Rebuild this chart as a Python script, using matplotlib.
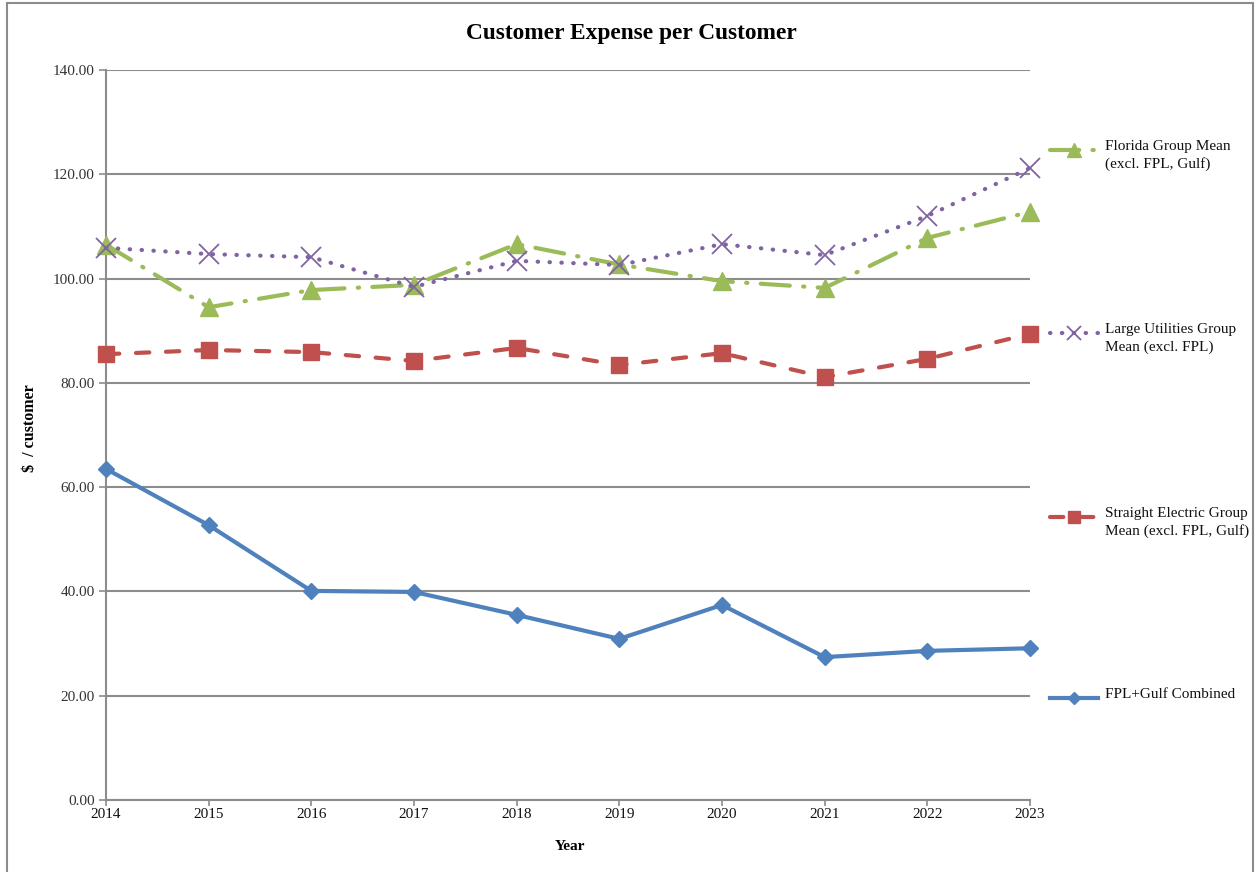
import matplotlib
matplotlib.use("Agg")
import matplotlib.pyplot as plt
from matplotlib.lines import Line2D
from matplotlib.patches import Rectangle

years = [2014, 2015, 2016, 2017, 2018, 2019, 2020, 2021, 2022, 2023]
florida_mean = [106.5, 94.5, 97.8, 98.8, 106.6, 102.7, 99.5, 98.2, 107.8, 112.8]
large_util_mean = [105.9, 104.7, 104.1, 98.4, 103.4, 102.6, 106.6, 104.5, 112.0, 121.2]
straight_elec_mean = [85.5, 86.3, 85.9, 84.2, 86.7, 83.4, 85.7, 81.1, 84.6, 89.4]
fpl_gulf = [63.5, 52.7, 40.1, 39.9, 35.5, 30.9, 37.4, 27.4, 28.6, 29.1]

labels = ["Florida Group Mean\n(excl. FPL, Gulf)",
          "Large Utilities Group\nMean (excl. FPL)",
          "Straight Electric Group\nMean (excl. FPL, Gulf)",
          "FPL+Gulf Combined"]
title = "Customer Expense per Customer"
yticks = [0, 20, 40, 60, 80, 100, 120, 140]

plt.rcParams['font.family'] = ['Liberation Serif', 'DejaVu Serif']

W, H = 1255, 872
fig = plt.figure(figsize=(W / 100, H / 100), dpi=100)
ax = fig.add_axes([106 / W, 1 - 800 / H, (1030 - 106) / W, (800 - 70) / H])

green = '#9BBB59'
purple = '#8064A2'
red = '#C0504D'
blue = '#4F81BD'
grid_c = '#8C8C8C'

styles = [
    dict(color=green, lw=3.0, linestyle=(0, (7, 3.2, 0.3, 3.2)), marker='^', ms=13,
         mfc=green, mec=green, dash_capstyle='round'),
    dict(color=purple, lw=3.0, linestyle=(0, (0.1, 2.75)), marker='x', ms=14,
         mfc=purple, mec=purple, mew=1.3, dash_capstyle='round'),
    dict(color=red, lw=3.0, linestyle=(0, (3.2, 4)), marker='s', ms=12,
         mfc=red, mec=red, dash_capstyle='round'),
    dict(color=blue, lw=3.0, linestyle='-', marker='D', ms=8,
         mfc=blue, mec=blue),
]
series = [florida_mean, large_util_mean, straight_elec_mean, fpl_gulf]
zorders = [4, 5, 3, 3]
for s, st, z in zip(series, styles, zorders):
    ax.plot(years, s, clip_on=False, zorder=z, **st)

ax.set_xlim(2014, 2023)
ax.set_ylim(0, 140)
ax.set_yticks(yticks)
ax.set_yticklabels([f"{v:.2f}" for v in yticks])
ax.set_xticks(years)
ax.set_xticklabels([str(y) for y in years])
ax.yaxis.grid(True, color=grid_c, lw=1.5, zorder=0)
ax.set_axisbelow(True)
for sp in ['top', 'right']:
    ax.spines[sp].set_visible(False)
for sp in ['left', 'bottom']:
    ax.spines[sp].set_color(grid_c)
    ax.spines[sp].set_linewidth(1.5)
ax.tick_params(axis='y', length=5, width=1.2, color=grid_c, labelsize=11, pad=3,
               labelcolor='#333333')
ax.tick_params(axis='x', length=4, width=1.2, color=grid_c, labelsize=11, pad=2,
               labelcolor='#111111')

ax.set_xlabel("Year", fontsize=11, fontweight='bold', labelpad=4)
ax.set_ylabel("$  / customer", fontsize=11.5, fontweight='bold', labelpad=38)
ax.xaxis.set_label_coords((570 - 106) / (1030 - 106), -(840 - 800) / (800 - 70))
ax.yaxis.set_label_coords(-(106 - 38) / (1030 - 106), (800 - 428) / (800 - 70))

fig.text(631 / W, 1 - 33 / H, title, ha='center', va='center',
         fontsize=16.8, fontweight='bold')

# Legend (manual, right side)
leg_y = [150, 333, 517, 698]
for lab, st, y in zip(labels, styles, leg_y):
    yf = 1 - y / H
    st2 = dict(st)
    mk = st2.pop('marker'); ms = st2.pop('ms')
    mfc = st2.pop('mfc'); mec = st2.pop('mec'); mew = st2.pop('mew', 1.0)
    fig.add_artist(Line2D([1050 / W, 1098 / W], [yf, yf], transform=fig.transFigure, **st2))
    fig.add_artist(Line2D([1074 / W], [yf], transform=fig.transFigure, marker=mk,
                          ms=ms * 0.75, mfc=mfc, mec=mec, mew=mew, linestyle='none'))
    fig.text(1105 / W, 1 - (y - 10) / H, lab, ha='left', va='top', fontsize=11,
             linespacing=1.4, color='#111111')

# Outer border
fig.add_artist(Rectangle((7 / W, -0.05), (1253 - 7) / W, 1.05 - 3 / H,
                         transform=fig.transFigure, fill=False, edgecolor='#8C8C8C',
                         lw=1.5, clip_on=False))

fig.savefig("out.png", dpi=100)
